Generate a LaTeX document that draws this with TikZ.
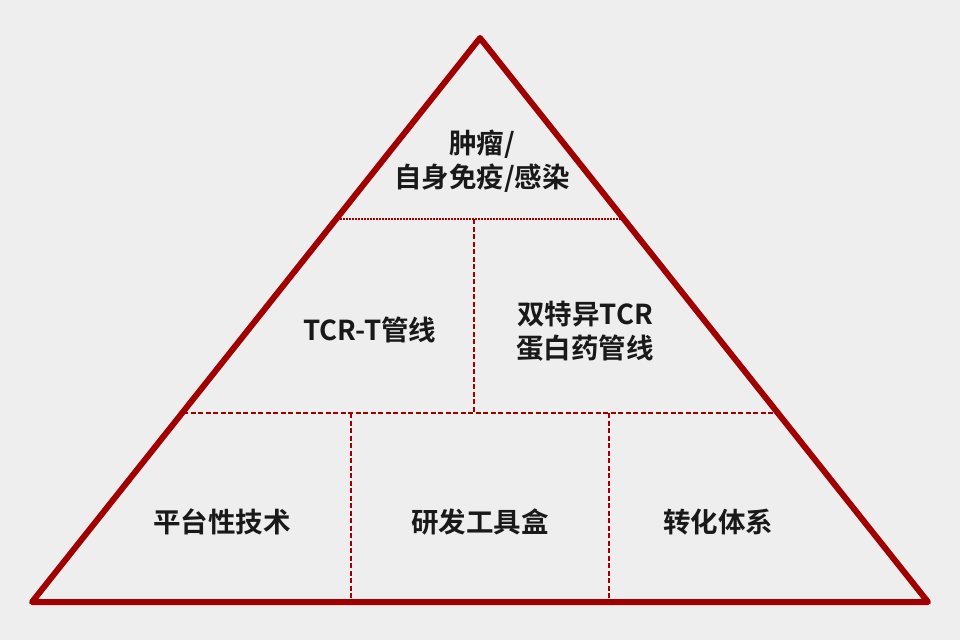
\documentclass[tikz,border=0pt]{standalone}
\usepackage{fontspec}
\setmainfont{Noto Sans CJK SC}[BoldFont={Noto Sans CJK SC Bold}]
\definecolor{tri}{HTML}{A00000}
\definecolor{bg}{HTML}{EEEEEE}
\begin{document}
\begin{tikzpicture}[x=1pt,y=-1pt,
  lab/.style={font=\fontsize{27.5}{34}\selectfont\bfseries,text=black!90,align=center},
  sep/.style={tri,line width=1.4pt,dash pattern=on 5pt off 2.5pt},
  dot/.style={tri,line width=1.4pt,dash pattern=on 1.5pt off 1.5pt}]
\fill[bg] (0,0) rectangle (960,640);
\useasboundingbox (0,0) rectangle (960,640);
\coordinate (A) at (480,38);
\coordinate (L) at (32,602);
\coordinate (R) at (928,602);
\draw[dot] (337,219) -- (623,219);
\draw[sep] (474,219) -- (474,413);
\draw[sep] (183,413) -- (777,413);
\draw[sep] (351,413) -- (351,600);
\draw[sep] (609,413) -- (609,600);
\draw[tri,line width=6pt,line join=round,line cap=round] (A) -- (L) -- (R) -- cycle;
\node[lab] (t1) at (482,161) {肿瘤/\\自身免疫/感染};
\node[lab] (t2) at (370,330) {TCR-T管线};
\node[lab] (t3) at (585,331) {双特异TCR\\蛋白药管线};
\node[lab] (b1) at (222,522) {平台性技术};
\node[lab] (b2) at (480,522) {研发工具盒};
\node[lab] (b3) at (718,522) {转化体系};
\end{tikzpicture}
\end{document}
